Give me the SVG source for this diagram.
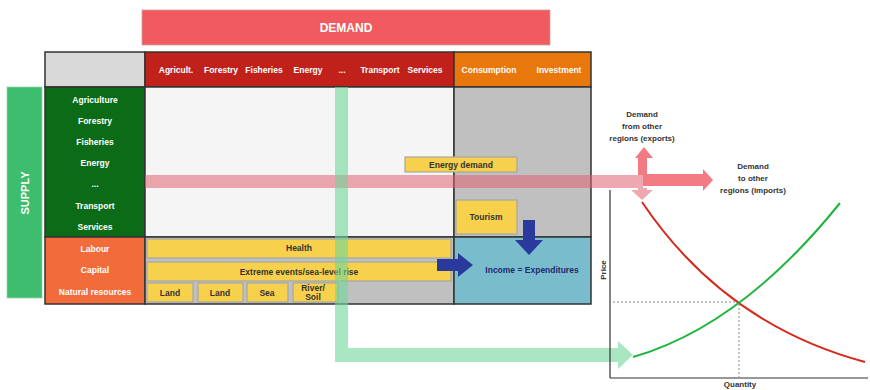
<svg xmlns="http://www.w3.org/2000/svg" width="870" height="390" viewBox="0 0 870 390">
<defs>
<style>
text{font-family:"Liberation Sans",Arial,sans-serif;font-weight:bold;}
.w{fill:#ffffff;font-size:8.5px;text-anchor:middle;}
.d{fill:#333333;font-size:8.5px;text-anchor:middle;}
.lbl{fill:#333333;font-size:8px;text-anchor:middle;}
.yb{fill:#f8d14c;stroke:#a6a6a6;stroke-width:1.2;}
.cell{stroke:#333333;stroke-width:1.5;}
.axis{stroke:#333333;stroke-width:1.2;fill:none;}
.dash{stroke:#888888;stroke-width:1;stroke-dasharray:2,2;fill:none;}
</style>
</defs>
<rect width="870" height="390" fill="#ffffff"/>

<g id="demand">
<rect x="142" y="10" width="408" height="35" fill="#f15a5e" stroke="#c8a0a0" stroke-width="0.8"/>
<text x="346" y="32" fill="#ffffff" font-size="12" text-anchor="middle">DEMAND</text>
</g>

<g id="supply">
<rect x="7" y="87" width="35" height="211" fill="#3dbd6d" stroke="#9ccfb0" stroke-width="0.8"/>
<text transform="translate(29,193) rotate(-90)" fill="#ffffff" font-size="11" text-anchor="middle">SUPPLY</text>
</g>

<g id="table">
<rect class="cell" x="45" y="52" width="100" height="35" fill="#d9d9d9"/>
<rect class="cell" x="145" y="52" width="309" height="35" fill="#c0211a"/>
<rect class="cell" x="454" y="52" width="137" height="35" fill="#e8780b"/>
<rect class="cell" x="45" y="87" width="100" height="150" fill="#0b6b16"/>
<rect class="cell" x="145" y="87" width="309" height="150" fill="#f5f5f5"/>
<rect class="cell" x="454" y="87" width="137" height="150" fill="#c0c0c0"/>
<rect class="cell" x="45" y="237" width="100" height="67" fill="#f26c3b"/>
<rect class="cell" x="145" y="237" width="309" height="67" fill="#c0c0c0"/>
<rect class="cell" x="454" y="237" width="137" height="67" fill="#79bccc"/>
</g>

<g id="header-labels">
<text class="w" x="176" y="73">Agricult.</text>
<text class="w" x="221" y="73">Forestry</text>
<text class="w" x="264" y="73">Fisheries</text>
<text class="w" x="308" y="73">Energy</text>
<text class="w" x="342" y="73">...</text>
<text class="w" x="380" y="73">Transport</text>
<text class="w" x="425" y="73">Services</text>
<text class="w" x="489" y="73">Consumption</text>
<text class="w" x="559" y="73">Investment</text>
</g>

<g id="supply-labels">
<text class="w" x="95" y="103">Agriculture</text>
<text class="w" x="95" y="124">Forestry</text>
<text class="w" x="95" y="145">Fisheries</text>
<text class="w" x="95" y="166">Energy</text>
<text class="w" x="95" y="187">...</text>
<text class="w" x="95" y="209">Transport</text>
<text class="w" x="95" y="230">Services</text>
<text class="w" x="95" y="252">Labour</text>
<text class="w" x="95" y="273">Capital</text>
<text class="w" x="95" y="295">Natural resources</text>
</g>

<g id="health"><rect class="yb" x="147" y="239" width="304" height="19"/><text class="d" x="299" y="251">Health</text></g>
<g id="extreme"><rect class="yb" x="147" y="262" width="304" height="19"/><text class="d" x="299" y="274.5">Extreme events/sea-level rise</text></g>
<g id="land1"><rect class="yb" x="147" y="283" width="46" height="19"/><text class="d" x="170" y="296">Land</text></g>
<g id="land2"><rect class="yb" x="198" y="283" width="45" height="19"/><text class="d" x="220" y="296">Land</text></g>
<g id="sea"><rect class="yb" x="247" y="283" width="41" height="19"/><text class="d" x="267" y="296">Sea</text></g>
<g id="river"><rect class="yb" x="293" y="283" width="45" height="19"/><text class="d" x="313" y="291">River/</text><text class="d" x="313" y="300">Soil</text></g>
<g id="energy-demand"><rect class="yb" x="405" y="157" width="112" height="15"/><text class="d" x="461" y="167.5">Energy demand</text></g>
<g id="tourism"><rect class="yb" x="456" y="200" width="61" height="34"/><text class="d" x="486" y="220">Tourism</text></g>
<g id="income"><text x="532" y="273" fill="#1f2a6e" font-size="8.5" text-anchor="middle">Income = Expenditures</text></g>

<g id="connectors">
<rect x="145" y="175" width="498" height="13" fill="#e0606e" opacity="0.55"/>
<path d="M638,188 H647 V190 H653 L642,200 L631,190 H638 Z" fill="#e0606e" opacity="0.55"/>
<path d="M638,175 V158 H635 L644,147 L653,158 H647 V175 Z" fill="#f27a82"/>
<path d="M643,174 H703 V169 L713,180 L703,191 V186 H643 Z" fill="#f27a82"/>
<path d="M335,87 H348 V348 H618 V341 L633,355 L618,369 V362 H335 Z" fill="#6fd69a" opacity="0.6"/>
<path d="M437,259 H458 V253 L473,265 L458,277 V271 H437 Z" fill="#2a3a9c"/>
<path d="M523,220 H535 V240 H543 L529,255 L515,240 H523 Z" fill="#2a3a9c"/>
</g>

<g id="chart">
<line class="axis" x1="610" y1="378" x2="610" y2="190"/>
<line class="axis" x1="610" y1="378" x2="868" y2="378"/>
<path class="dash" d="M613,302 H739 V377"/>
<path d="M642,202 Q724,324 865,362" fill="none" stroke="#d42a1e" stroke-width="2"/>
<path d="M633,357 Q741,326 840,203" fill="none" stroke="#1db43c" stroke-width="2"/>
<text class="lbl" transform="translate(606,270) rotate(-90)">Price</text>
<text class="lbl" x="740" y="387">Quantity</text>
</g>

<g id="exports-label">
<text class="lbl" x="642" y="117">Demand</text>
<text class="lbl" x="642" y="129">from other</text>
<text class="lbl" x="642" y="141">regions (exports)</text>
</g>
<g id="imports-label">
<text class="lbl" x="753" y="169">Demand</text>
<text class="lbl" x="753" y="181">to other</text>
<text class="lbl" x="753" y="193">regions (imports)</text>
</g>
</svg>
